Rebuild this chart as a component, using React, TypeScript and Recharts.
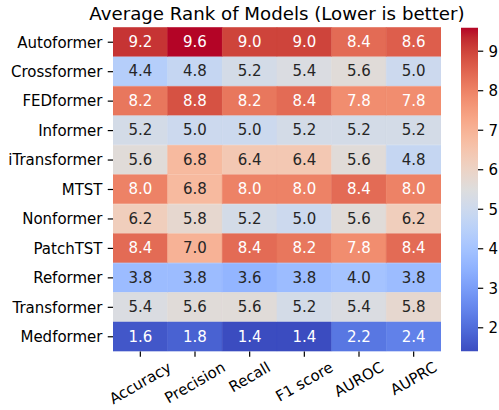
import React from "react";
import { BarChart, Bar, XAxis, YAxis, Cell, LabelList } from "recharts";

const models = ["Autoformer", "Crossformer", "FEDformer", "Informer", "iTransformer", "MTST", "Nonformer", "PatchTST", "Reformer", "Transformer", "Medformer"];
const metrics = ["Accuracy", "Precision", "Recall", "F1 score", "AUROC", "AUPRC"];
const autoformer = [9.2, 9.6, 9.0, 9.0, 8.4, 8.6];
const crossformer = [4.4, 4.8, 5.2, 5.4, 5.6, 5.0];
const fedformer = [8.2, 8.8, 8.2, 8.4, 7.8, 7.8];
const informer = [5.2, 5.0, 5.0, 5.2, 5.2, 5.2];
const itransformer = [5.6, 6.8, 6.4, 6.4, 5.6, 4.8];
const mtst = [8.0, 6.8, 8.0, 8.0, 8.4, 8.0];
const nonformer = [6.2, 5.8, 5.2, 5.0, 5.6, 6.2];
const patchtst = [8.4, 7.0, 8.4, 8.2, 7.8, 8.4];
const reformer = [3.8, 3.8, 3.6, 3.8, 4.0, 3.8];
const transformer = [5.4, 5.6, 5.6, 5.2, 5.4, 5.8];
const medformer = [1.6, 1.8, 1.4, 1.4, 2.2, 2.4];
const values = [autoformer, crossformer, fedformer, informer, itransformer, mtst, nonformer, patchtst, reformer, transformer, medformer];
const colorbarTicks = [2, 3, 4, 5, 6, 7, 8, 9];
const title = "Average Rank of Models (Lower is better)";

const VMIN = 1.4;
const VMAX = 9.6;
const FONT = '"DejaVu Sans", sans-serif';
const FS = 15;
const TICK = 5.25;

const CW: number[][] = [
  [59, 76, 192], [68, 90, 204], [77, 104, 215], [87, 117, 225], [98, 130, 234], [108, 142, 241],
  [119, 154, 247], [130, 165, 251], [141, 176, 254], [152, 185, 255], [163, 194, 255], [174, 201, 253],
  [184, 208, 249], [194, 213, 244], [204, 217, 238], [213, 219, 230], [221, 221, 221], [229, 216, 209],
  [236, 211, 197], [241, 204, 185], [245, 196, 173], [247, 187, 160], [247, 177, 148], [247, 166, 135],
  [244, 154, 123], [241, 141, 111], [236, 127, 99], [229, 112, 88], [222, 96, 77], [213, 80, 66],
  [203, 62, 56], [192, 40, 47], [180, 4, 38],
];

function cmapRGB(t: number): number[] {
  const tt = Math.max(0, Math.min(1, t)) * (CW.length - 1);
  const i = Math.min(CW.length - 2, Math.floor(tt));
  const f = tt - i;
  return [0, 1, 2].map((k) => CW[i][k] + (CW[i + 1][k] - CW[i][k]) * f);
}
function rgbStr(c: number[]) {
  return `rgb(${Math.round(c[0])},${Math.round(c[1])},${Math.round(c[2])})`;
}
function colorFor(v: number) {
  return rgbStr(cmapRGB((v - VMIN) / (VMAX - VMIN)));
}
function lin(c: number) {
  const x = c / 255;
  return x <= 0.03928 ? x / 12.92 : Math.pow((x + 0.055) / 1.055, 2.4);
}
function textColorFor(v: number) {
  const c = cmapRGB((v - VMIN) / (VMAX - VMIN));
  const lum = 0.2126 * lin(c[0]) + 0.7152 * lin(c[1]) + 0.0722 * lin(c[2]);
  return lum > 0.408 ? "#262626" : "#ffffff";
}

const rows = models.map((m, r) => {
  const o: any = { model: m };
  values[r].forEach((v, c) => {
    o[`u${c}`] = 1;
    o[`v${c}`] = v;
  });
  return o;
});

let canvasCtx: any = null;
function measure(text: string, size: number) {
  try {
    if (!canvasCtx) canvasCtx = document.createElement("canvas").getContext("2d");
    canvasCtx.font = `${size}px "DejaVu Sans"`;
    return canvasCtx.measureText(text).width;
  } catch (e) {
    return text.length * size * 0.6;
  }
}

const XTick = (props: any) => {
  const { x, y, payload } = props;
  const label = metrics[Math.floor(payload.value)];
  const w = measure(label, FS);
  const h = FS * 0.62;
  const bboxH = w * 0.5 + h * 0.866;
  const cy = y + bboxH / 2;
  return (
    <text
      x={x}
      y={cy}
      textAnchor="middle"
      dominantBaseline="central"
      fontSize={FS}
      fontFamily={FONT}
      fill="#000"
      transform={`rotate(-30, ${x}, ${cy})`}
    >
      {label}
    </text>
  );
};

const CellLabel = (props: any) => {
  const { x, y, width, height, value } = props;
  return (
    <text
      x={x + width / 2}
      y={y + height / 2}
      textAnchor="middle"
      dominantBaseline="central"
      fontSize={FS}
      fontFamily={FONT}
      fill={textColorFor(value)}
    >
      {Number(value).toFixed(1)}
    </text>
  );
};

export default function App() {
  const stops = CW.map((c, i) => ({ off: i / (CW.length - 1), col: rgbStr(c) }));
  return (
    <div style={{ position: "absolute", left: 0, top: 0, width: 499, height: 410, background: "#fff", fontFamily: FONT }}>
      <svg width={499} height={410} style={{ position: "absolute", left: 0, top: 0 }}>
        <defs>
          <linearGradient id="cbarGrad" x1="0" y1="1" x2="0" y2="0">
            {stops.map((s, i) => (
              <stop key={i} offset={s.off} stopColor={s.col} />
            ))}
          </linearGradient>
        </defs>
        <text x={277} y={19.5} textAnchor="middle" fontSize={18.2} fontFamily={FONT} fill="#000">
          {title}
        </text>
      </svg>
      <div style={{ position: "absolute", left: 0, top: 0 }}>
        <BarChart
          width={499}
          height={410}
          data={rows}
          layout="vertical"
          margin={{ top: 27.5, right: 58, bottom: 0, left: 0 }}
          barCategoryGap={0}
          barGap={0}
        >
          <XAxis
            type="number"
            domain={[0, 6]}
            ticks={[0.5, 1.5, 2.5, 3.5, 4.5, 5.5]}
            allowDataOverflow
            height={58.5}
            axisLine={false}
            tickLine={{ stroke: "#000", strokeWidth: 1.2 }}
            tickSize={TICK}
            tickMargin={TICK}
            tick={<XTick />}
            interval={0}
          />
          <YAxis
            type="category"
            dataKey="model"
            width={113}
            axisLine={false}
            tickLine={{ stroke: "#000", strokeWidth: 1.2 }}
            tickSize={TICK}
            tickMargin={TICK}
            interval={0}
            tick={{ fontSize: FS, fontFamily: FONT, fill: "#000" }}
          />
          {metrics.map((_, c) => (
            <Bar key={c} dataKey={`u${c}`} stackId="s" isAnimationActive={false}>
              {rows.map((row, r) => {
                const col = colorFor(row[`v${c}`]);
                return <Cell key={r} fill={col} stroke={col} strokeWidth={0.6} />;
              })}
              <LabelList dataKey={`v${c}`} content={<CellLabel />} />
            </Bar>
          ))}
        </BarChart>
      </div>
      <div style={{ position: "absolute", left: 461, top: 0 }}>
        <BarChart
          width={38}
          height={410}
          data={[{ k: "c", r: [VMIN, VMAX] }]}
          margin={{ top: 27.5, right: 0, bottom: 58.5, left: 0 }}
          barCategoryGap={0}
          style={{ overflow: "visible" }}
        >
          <XAxis dataKey="k" hide />
          <YAxis
            type="number"
            orientation="right"
            domain={[VMIN, VMAX]}
            ticks={colorbarTicks}
            allowDataOverflow
            width={21}
            axisLine={false}
            tickLine={{ stroke: "#000", strokeWidth: 1.2 }}
            tickSize={TICK}
            tickMargin={TICK}
            interval={0}
            tick={{ fontSize: FS, fontFamily: FONT, fill: "#000", textAnchor: "start" }}
          />
          <Bar dataKey="r" fill="url(#cbarGrad)" isAnimationActive={false} />
        </BarChart>
      </div>
    </div>
  );
}
